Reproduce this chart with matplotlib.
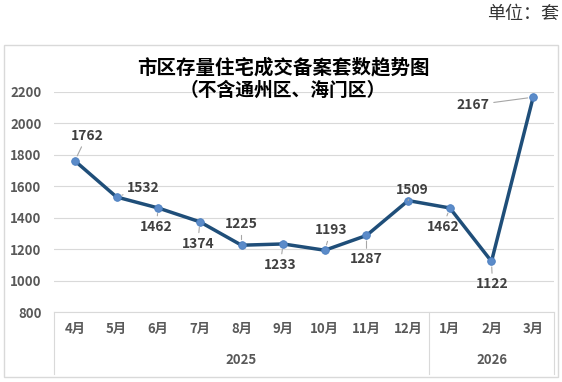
import matplotlib.pyplot as plt
from matplotlib.patches import Rectangle
from matplotlib.lines import Line2D

plt.rcParams['font.family'] = ['Noto Sans CJK SC', 'DejaVu Sans']

months = ['4月', '5月', '6月', '7月', '8月', '9月', '10月', '11月', '12月', '1月', '2月', '3月']
years = ['2025', '2026']
year_counts = [9, 3]
values = [1762, 1532, 1462, 1374, 1225, 1233, 1193, 1287, 1509, 1462, 1122, 2167]
yticks = [800, 1000, 1200, 1400, 1600, 1800, 2000, 2200]

# label offsets from each point, in pixels
label_offsets = [(12, 25), (27, 9), (-2, -19), (-2, -22), (0, 21), (-3, -21),
                 (6, 20), (0, -24), (4, 11), (-7, -19), (1, -23), (-60, -8)]

W, H = 562, 382
fig = plt.figure(figsize=(W / 100, H / 100), dpi=100)
ax = fig.add_axes([54 / W, 1 - 312 / H, 500 / W, 220 / H])

x = list(range(len(months)))
ax.plot(x, values, color='#1F4E79', lw=2.5, zorder=3)
ax.plot(x, values, 'o', ms=5.5, color='#5B8BC9', mec='#4A7EC0', mew=0.6, zorder=4)

for xi, v, (dx, dy) in zip(x, values, label_offsets):
    ax.annotate(str(v), (xi, v), xytext=(dx, dy), textcoords='offset pixels',
                ha='center', va='center', fontsize=10, fontweight='bold',
                color='#404040', zorder=5,
                arrowprops=dict(arrowstyle='-', color='#A6A6A6', lw=0.8,
                                shrinkA=1, shrinkB=4))

ax.set_xlim(-0.5, len(months) - 0.5)
ax.set_ylim(800, 2200)
ax.set_yticks(yticks)
ax.yaxis.grid(True, color='#D9D9D9', lw=0.8)
ax.set_axisbelow(True)
ax.tick_params(axis='y', length=0, pad=9, labelsize=9.5, labelcolor='#595959')
for t in ax.get_yticklabels():
    t.set_fontweight('bold')
ax.set_xticks([])
for s in ['left', 'right', 'top']:
    ax.spines[s].set_visible(False)
ax.spines['bottom'].set_color('#D9D9D9')

# two-level category axis
trans = ax.get_xaxis_transform()
for xi, m in zip(x, months):
    ax.text(xi, -0.075, m, transform=trans, ha='center', va='center',
            fontsize=9.5, fontweight='bold', color='#595959')
depth = -62 / 220
start = 0
bounds = [-0.5]
for yr, n in zip(years, year_counts):
    ax.text(start + (n - 1) / 2, -0.22, yr, transform=trans, ha='center', va='center',
            fontsize=9.5, fontweight='bold', color='#595959')
    start += n
    bounds.append(start - 0.5)
for b in bounds:
    ax.add_line(Line2D([b, b], [0, depth], transform=trans, color='#D9D9D9',
                       lw=0.8, clip_on=False))

# chart border and titles
fig.patches.append(Rectangle((4 / W, 1 - 377 / H), 554 / W, 332 / H,
                             transform=fig.transFigure, fill=False,
                             edgecolor='#D9D9D9', lw=1))
fig.text(283 / W, 1 - 68 / H, '市区存量住宅成交备案套数趋势图', ha='center', va='center',
         fontsize=14, fontweight='bold', color='#000000')
fig.text(283 / W, 1 - 90 / H, '（不含通州区、海门区）', ha='center', va='center',
         fontsize=13.5, fontweight='bold', color='#000000')
fig.text(559 / W, 1 - 14 / H, '单位：套', ha='right', va='center',
         fontsize=13, color='#333333')

fig.savefig('out.png', dpi=100)
